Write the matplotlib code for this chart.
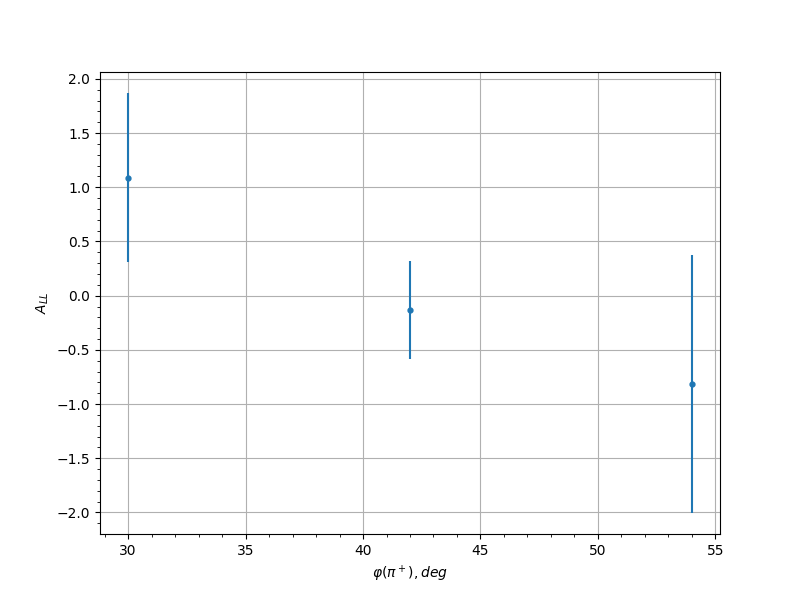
import matplotlib
matplotlib.use("Agg")
import matplotlib.pyplot as plt

# phi(pi+) bins, deg
phi = [30, 42, 54]
# asymmetry values and errors
a_ll = [1.09, -0.13, -0.815]
a_ll_err = [0.78, 0.45, 1.19]

fig, ax = plt.subplots(figsize=(8, 6), dpi=100)
ax.errorbar(phi, a_ll, yerr=a_ll_err, fmt="o", markersize=3.5)
ax.minorticks_on()
ax.grid(True)
ax.set_xlabel(r"$\varphi(\pi^+), deg$")
ax.set_ylabel(r"$A_{LL}$")
fig.savefig("out.png")
